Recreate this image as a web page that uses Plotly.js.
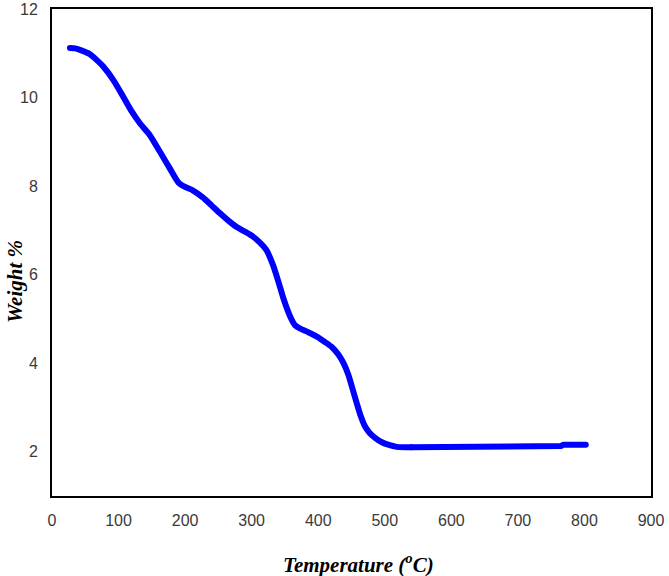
<!DOCTYPE html>
<html>
<head>
<meta charset="utf-8">
<script src="https://cdn.plot.ly/plotly-3.0.1.min.js"></script>
<style>
  html, body { margin: 0; padding: 0; background: #fff; }
  #chart { width: 669px; height: 576px; }
  #chart path.js-line { stroke-linecap: round; stroke-linejoin: round; }
</style>
</head>
<body>
<div id="chart"></div>
<script>
// TGA curve: sample weight against temperature
const temperature = [27, 35, 45, 57, 67, 77, 92, 107, 120, 132, 147, 162, 177, 190, 200,
  212, 227, 240, 252, 265, 277, 290, 302, 312, 322, 332, 340, 348, 358, 365, 373, 385,
  398, 410, 420, 430, 438, 445, 452, 458, 464, 470, 477, 485, 495, 505, 518, 540, 600,
  665, 668, 720, 765, 768, 802];
const weight = [11.12, 11.11, 11.06, 10.98, 10.85, 10.70, 10.40, 10.02, 9.68, 9.42, 9.15,
  8.78, 8.40, 8.08, 7.98, 7.90, 7.74, 7.56, 7.39, 7.22, 7.08, 6.97, 6.86, 6.73, 6.56, 6.22,
  5.85, 5.45, 5.05, 4.86, 4.78, 4.70, 4.60, 4.48, 4.37, 4.20, 4.00, 3.75, 3.40, 3.09, 2.80,
  2.58, 2.43, 2.32, 2.22, 2.16, 2.11, 2.10, 2.10, 2.10, 2.13, 2.13, 2.13, 2.16, 2.16];

const xTicks = [0, 100, 200, 300, 400, 500, 600, 700, 800, 900];
const yTicks = [2, 4, 6, 8, 10, 12];

// the smooth decomposition part is drawn as a spline, the flat residue as straight runs
const plateauStart = temperature.indexOf(540);

const tickFont = { family: 'Liberation Sans, Arial, sans-serif', size: 16, color: '#3a3a3a' };
const titleFont = { family: 'Liberation Serif, Times New Roman, serif', size: 21, color: '#000' };

const lineStyle = { color: '#0000ff', width: 6 };

const traces = [
  {
    x: temperature.slice(0, plateauStart + 1),
    y: weight.slice(0, plateauStart + 1),
    type: 'scatter',
    mode: 'lines',
    line: Object.assign({ shape: 'spline', smoothing: 0.6 }, lineStyle)
  },
  {
    x: temperature.slice(plateauStart),
    y: weight.slice(plateauStart),
    type: 'scatter',
    mode: 'lines',
    line: Object.assign({ shape: 'linear' }, lineStyle)
  }
];

const layout = {
  width: 669,
  height: 576,
  margin: { l: 52, r: 18, t: 9, b: 80 },
  paper_bgcolor: '#fff',
  plot_bgcolor: '#fff',
  showlegend: false,
  xaxis: {
    range: [0, 900],
    tickvals: xTicks,
    ticktext: xTicks.map(String),
    showgrid: false,
    zeroline: false,
    showline: true,
    mirror: true,
    linecolor: '#000',
    linewidth: 2,
    ticks: 'outside',
    ticklen: 9,
    tickcolor: 'rgba(0,0,0,0)',
    tickfont: tickFont
  },
  yaxis: {
    range: [1, 12],
    tickvals: yTicks,
    ticktext: yTicks.map(String),
    showgrid: false,
    zeroline: false,
    showline: true,
    mirror: true,
    linecolor: '#000',
    linewidth: 2,
    ticks: 'outside',
    ticklen: 9,
    tickcolor: 'rgba(0,0,0,0)',
    tickfont: tickFont
  },
  annotations: [
    {
      text: '<b><i>Temperature (<sup>o</sup>C)</i></b>',
      xref: 'paper', yref: 'paper',
      x: (358 - 52) / 599, y: -(563 - 496) / 487,
      xanchor: 'center', yanchor: 'middle',
      showarrow: false,
      font: titleFont
    },
    {
      text: '<b><i>Weight %</i></b>',
      xref: 'paper', yref: 'paper',
      x: -(52 - 15) / 599, y: (496 - 282) / 487,
      xanchor: 'center', yanchor: 'middle',
      textangle: -90,
      showarrow: false,
      font: titleFont
    }
  ]
};

Plotly.newPlot('chart', traces, layout, { displayModeBar: false, staticPlot: true });
</script>
</body>
</html>
